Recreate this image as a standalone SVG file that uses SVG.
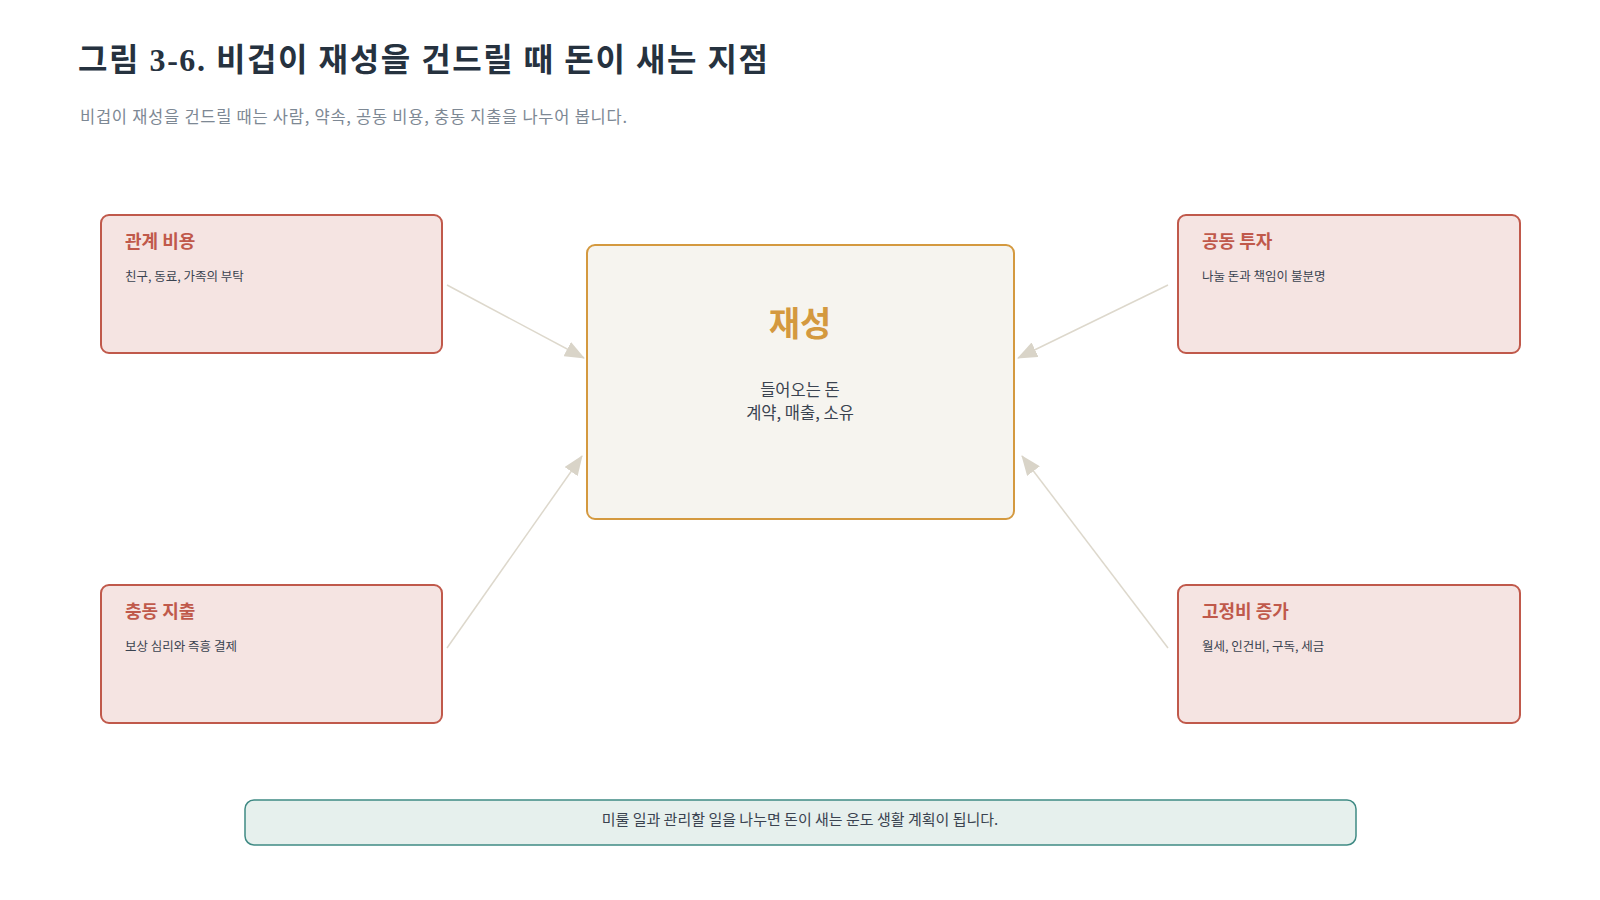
<svg xmlns="http://www.w3.org/2000/svg" width="1600" height="900" viewBox="0 0 1600 900">
<style>
.title{font-family:"Liberation Serif","Noto Sans CJK KR",serif;font-size:32px;font-weight:bold;fill:#26323f}
.sub{font-family:"Noto Sans CJK KR",sans-serif;font-size:16.5px;fill:#7d8894}
.box{fill:#f5e4e2;stroke:#c0594b;stroke-width:2}
.ntitle{font-family:"Noto Sans CJK KR",sans-serif;font-size:18px;font-weight:bold;fill:#c0594b}
.ndesc{font-family:"Noto Sans CJK KR",sans-serif;font-size:12.5px;fill:#3a4350}
.center{fill:#f6f4ef;stroke:#d4993f;stroke-width:2}
.ctitle{font-family:"Noto Sans CJK KR",sans-serif;font-size:34px;font-weight:bold;fill:#d4993f}
.cdesc{font-family:"Noto Sans CJK KR",sans-serif;font-size:16.5px;fill:#3a4350}
.note{fill:#e6f0ed;stroke:#3f8a84;stroke-width:1.5}
.ntext{font-family:"Noto Sans CJK KR",sans-serif;font-size:15px;fill:#3a4350}
.conn{stroke:#ddd8cc;stroke-width:1.5;fill:none;marker-end:url(#arrb)}
</style>
<defs>
<marker id="arrb" viewBox="0 0 20 16" refX="19" refY="8" markerWidth="20" markerHeight="16" markerUnits="userSpaceOnUse" orient="auto">
<path d="M0,0 L20,8 L0,16 z" fill="#d9d4c8"/>
</marker>
</defs>
<rect width="1600" height="900" fill="#ffffff"/>
<text class="title" x="78" y="71" textLength="690" lengthAdjust="spacing">그림 3-6. 비겁이 재성을 건드릴 때 돈이 새는 지점</text>
<text class="sub" x="80" y="123" textLength="547" lengthAdjust="spacing">비겁이 재성을 건드릴 때는 사람, 약속, 공동 비용, 충동 지출을 나누어 봅니다.</text>
<g id="connectors">
<line class="conn" x1="447" y1="285" x2="584" y2="358"/>
<line class="conn" x1="1168" y1="285" x2="1018" y2="358"/>
<line class="conn" x1="447" y1="648" x2="582" y2="456"/>
<line class="conn" x1="1168" y1="648" x2="1022" y2="456"/>
</g>
<g id="node-center">
<rect class="center" x="587" y="245" width="427" height="274" rx="8"/>
<text class="ctitle" x="800" y="336" text-anchor="middle">재성</text>
<text class="cdesc" x="800" y="396" text-anchor="middle">들어오는 돈</text>
<text class="cdesc" x="800" y="419" text-anchor="middle">계약, 매출, 소유</text>
</g>
<g id="node-relation">
<rect class="box" x="101" y="215" width="341" height="138" rx="8"/>
<text class="ntitle" x="125" y="248">관계 비용</text>
<text class="ndesc" x="125" y="281">친구, 동료, 가족의 부탁</text>
</g>
<g id="node-joint">
<rect class="box" x="1178" y="215" width="342" height="138" rx="8"/>
<text class="ntitle" x="1202" y="248">공동 투자</text>
<text class="ndesc" x="1202" y="281">나눌 돈과 책임이 불분명</text>
</g>
<g id="node-impulse">
<rect class="box" x="101" y="585" width="341" height="138" rx="8"/>
<text class="ntitle" x="125" y="618">충동 지출</text>
<text class="ndesc" x="125" y="651">보상 심리와 즉흥 결제</text>
</g>
<g id="node-fixed">
<rect class="box" x="1178" y="585" width="342" height="138" rx="8"/>
<text class="ntitle" x="1202" y="618">고정비 증가</text>
<text class="ndesc" x="1202" y="651">월세, 인건비, 구독, 세금</text>
</g>
<g id="note">
<rect class="note" x="245" y="800" width="1111" height="45" rx="9"/>
<text class="ntext" x="800" y="825" text-anchor="middle">미룰 일과 관리할 일을 나누면 돈이 새는 운도 생활 계획이 됩니다.</text>
</g>
</svg>
